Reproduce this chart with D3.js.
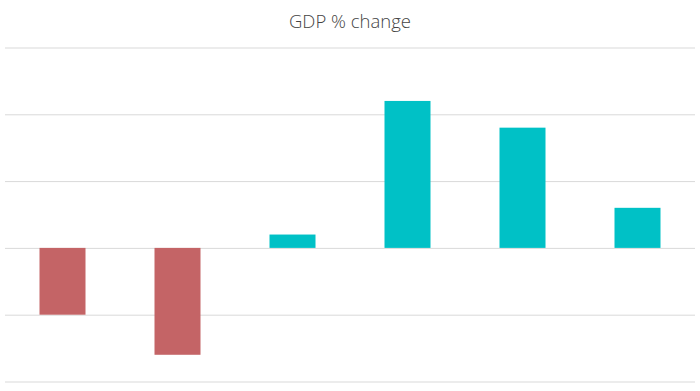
<!DOCTYPE html>
<html>
<head>
<meta charset="utf-8">
<script src="https://cdn.jsdelivr.net/npm/d3@7"></script>
<style>
  body { margin: 0; background: #fff; }
  svg { display: block; }
</style>
</head>
<body>
<svg id="chart" width="700" height="391"></svg>
<script>
const categories = ["Q1", "Q2", "Q3", "Q4", "Q5", "Q6"];
const values = [-1.0, -1.6, 0.2, 2.2, 1.8, 0.6];
const tickValues = [-2, -1, 0, 1, 2, 3];
const title = "GDP % change";

const svg = d3.select("#chart");
const W = 700, H = 391;
const m = { left: 5, right: 5, top: 47, bottom: 10 };

const x = d3.scaleBand().domain(categories).range([m.left, W - m.right]).paddingInner(0.6).paddingOuter(0.3);
const y = d3.scaleLinear().domain([-2, 3]).range([381.5, 47.5]);

svg.append("text")
  .attr("x", W / 2).attr("y", 28)
  .attr("text-anchor", "middle")
  .attr("font-family", "'Open Sans', 'Noto Sans', sans-serif")
  .attr("font-weight", 300)
  .attr("font-size", 18.5)
  .attr("fill", "#444")
  .text(title);

const axis = d3.axisLeft(y).tickValues(tickValues).tickSize(-(W - m.left - m.right)).tickFormat("");
const g = svg.append("g").attr("transform", `translate(${m.left},0)`).call(axis);
g.select(".domain").remove();
g.selectAll(".tick line").attr("stroke", "#d9d9d9").attr("stroke-width", 1);

svg.append("g").selectAll("rect").data(values).join("rect")
  .attr("x", (d, i) => x(categories[i]))
  .attr("width", x.bandwidth())
  .attr("y", d => y(Math.max(0, d)))
  .attr("height", d => Math.abs(y(d) - y(0)))
  .attr("fill", d => d < 0 ? "#c46466" : "#00c1c6");
</script>
</body>
</html>
